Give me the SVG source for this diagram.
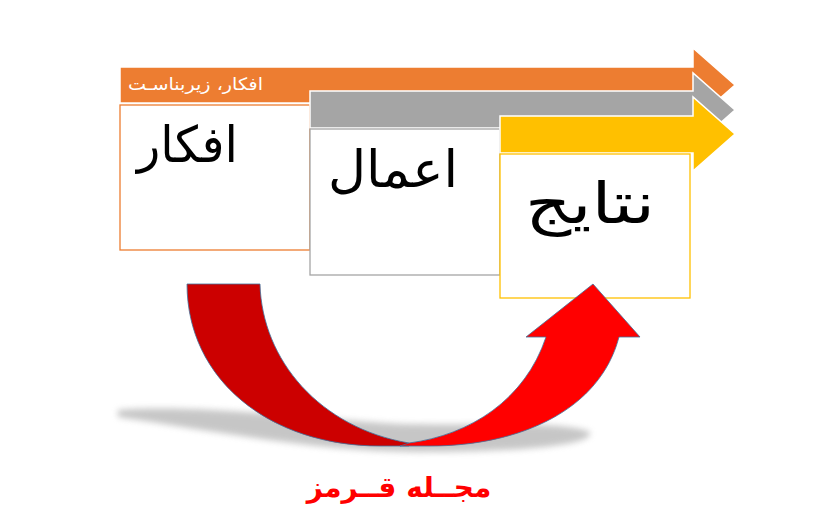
<svg xmlns="http://www.w3.org/2000/svg" width="831" height="531" viewBox="0 0 831 531">
<style>
.arr{stroke:#fff;stroke-width:1.5}
.box{fill:#fff;stroke-width:1.3}
.big{font-family:"DejaVu Sans",sans-serif;fill:#000;text-anchor:middle}
.red{stroke:#41719C;stroke-width:0.8}
</style>
<defs>
<filter id="blur" x="-20%" y="-50%" width="140%" height="200%"><feGaussianBlur stdDeviation="3"/></filter>
</defs>
<rect width="831" height="531" fill="#fff"/>
<g id="node-afkar">
<path class="arr" fill="#ED7D31" d="M120,67 L693,67 L693,48 L735,85 L693,122 L693,103 L120,103 Z"/>
<text x="195.5" y="90" font-family="DejaVu Sans,sans-serif" font-size="17" fill="#fff" text-anchor="middle" textLength="135" lengthAdjust="spacingAndGlyphs">افکار، زیربناسـت</text>
<rect class="box" x="120" y="105" width="190" height="145" stroke="#ED7D31"/>
<text class="big" x="187.5" y="162" font-size="50" textLength="101" lengthAdjust="spacingAndGlyphs">افکار</text>
</g>
<g id="node-amal">
<path class="arr" fill="#A5A5A5" d="M310,91 L693,91 L693,73 L735,110 L693,147 L693,128 L310,128 Z"/>
<rect class="box" x="310" y="129" width="190" height="146" stroke="#A5A5A5"/>
<text class="big" x="393" y="187" font-size="51" textLength="130" lengthAdjust="spacingAndGlyphs">اعمال</text>
</g>
<g id="node-natayej">
<path class="arr" fill="#FFC000" d="M500,116 L693,116 L693,97 L735,134 L693,171 L693,153 L500,153 Z"/>
<rect class="box" x="500" y="154" width="190" height="144" stroke="#FFC000"/>
<text class="big" x="590" y="223" font-size="57" textLength="130" lengthAdjust="spacingAndGlyphs">نتایج</text>
</g>
<g id="connectors">
<path fill="#999" opacity="0.55" filter="url(#blur)" d="M118,410 C200,404 300,418 400,424 C480,426 560,420 590,432 C595,445 520,452 420,452 C320,452 220,432 118,417 Z"/>
<path class="red" fill="#CC0000" d="M187,284 L260,284 C262,360 320,428 409,443 L409,446 L380,446 C270,446 187,380 187,284 Z"/>
<path class="red" fill="#FF0000" d="M409,443 C470,435 525,400 546,337 L526,337 L593,284 L640,337 L619,337 C600,410 520,446 430,446 L400,446 Z"/>
</g>
<text x="399" y="497" font-family="DejaVu Sans,sans-serif" font-size="28" font-weight="bold" fill="#FF0000" text-anchor="middle">مجــله قــرمز</text>
</svg>
